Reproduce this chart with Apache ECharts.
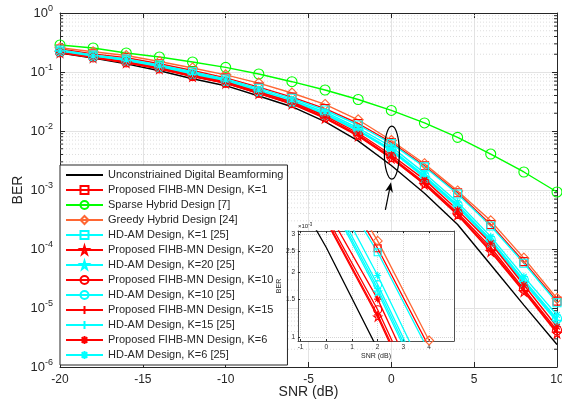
<!DOCTYPE html>
<html>
<head>
<meta charset="utf-8">
<script src="https://cdn.jsdelivr.net/npm/echarts@6/dist/echarts.min.js"></script>
<style>
  html, body { margin: 0; padding: 0; background: #fff; }
  #chart { width: 562px; height: 403px; }
</style>
</head>
<body>
<div id="chart"></div>
<script>
const chart = echarts.init(document.getElementById("chart"));

// SNR grid (dB) and BER values
const snr = [-20, -18, -16, -14, -12, -10, -8, -6, -4, -2, 0, 2, 4, 6, 8, 10];

const berUnconstrained = [0.210, 0.173, 0.137, 0.105, 0.0769, 0.0586, 0.0392, 0.0258, 0.0144, 0.0068, 0.0026, 8.8e-4, 2.6e-4, 5.4e-5, 1.12e-5, 2.4e-6];
const berFihbK1 = [0.245, 0.203, 0.174, 0.138, 0.106, 0.0795, 0.0555, 0.0375, 0.0240, 0.0134, 0.0064, 0.00258, 9.0e-4, 2.6e-4, 6.1e-5, 1.31e-5];
const berSparse = [0.287, 0.255, 0.210, 0.1795, 0.1477, 0.120, 0.0925, 0.0685, 0.0495, 0.0342, 0.0223, 0.0137, 0.0078, 0.00407, 0.00202, 0.000925];
const berGreedy = [0.258, 0.220, 0.190, 0.151, 0.117, 0.0895, 0.0648, 0.0440, 0.0282, 0.0155, 0.0069, 0.00279, 9.65e-4, 3.0e-4, 7.0e-5, 1.45e-5];
const berHdamK1 = [0.236, 0.194, 0.166, 0.1315, 0.101, 0.0761, 0.0529, 0.0358, 0.0227, 0.01264, 0.0061, 0.00247, 8.55e-4, 2.45e-4, 5.73e-5, 1.23e-5];
const berFihbK20 = [0.212, 0.175, 0.143, 0.113, 0.0838, 0.0642, 0.0431, 0.0287, 0.0164, 0.0082, 0.00344, 0.00124, 3.77e-4, 9.0e-5, 1.89e-5, 3.72e-6];
const berHdamK20 = [0.221, 0.181, 0.154, 0.120, 0.091, 0.0684, 0.0459, 0.0306, 0.0189, 0.0100, 0.0046, 0.00162, 5.15e-4, 1.32e-4, 2.7e-5, 5.86e-6];
const berFihbK10 = [0.215, 0.177, 0.145, 0.1145, 0.0852, 0.0655, 0.0442, 0.0296, 0.0171, 0.0087, 0.00362, 0.00134, 4.1e-4, 1.07e-4, 2.1e-5, 4.2e-6];
const berHdamK10 = [0.224, 0.184, 0.157, 0.123, 0.0935, 0.0705, 0.0475, 0.0318, 0.0198, 0.0105, 0.0049, 0.00175, 5.6e-4, 1.45e-4, 3.0e-5, 6.6e-6];
const berFihbK15 = [0.213, 0.176, 0.144, 0.1135, 0.0843, 0.0647, 0.0435, 0.0290, 0.0167, 0.0084, 0.0035, 0.00127, 3.9e-4, 9.7e-5, 1.97e-5, 3.9e-6];
const berHdamK15 = [0.222, 0.182, 0.155, 0.1215, 0.092, 0.0693, 0.0466, 0.0311, 0.0193, 0.0102, 0.00472, 0.00168, 5.35e-4, 1.38e-4, 2.85e-5, 6.2e-6];
const berFihbK6 = [0.218, 0.180, 0.148, 0.117, 0.0873, 0.0677, 0.0458, 0.0310, 0.0180, 0.00925, 0.00392, 0.00150, 4.58e-4, 1.25e-4, 2.45e-5, 4.82e-6];
const berHdamK6 = [0.227, 0.187, 0.160, 0.1264, 0.0962, 0.0731, 0.0495, 0.0335, 0.0210, 0.01124, 0.00542, 0.00193, 6.2e-4, 1.62e-4, 3.4e-5, 7.6e-6];

const insetXTicks = [-1, 0, 1, 2, 3, 4];
const insetYTicks = [0.001, 0.0015, 0.002, 0.0025, 0.003];

const RED = "#ff0000", CYAN = "#00ffff", GREEN = "#00ff00", ORANGE = "#ff6633";
const STAR = "path://M50,0 L61,35 L98,35 L68,57 L79,91 L50,70 L21,91 L32,57 L2,35 L39,35 Z";
const PLUS = "path://M5,0 L5,10 M0,5 L10,5";
const ASTER = "path://M5,0 L5,10 M0,5 L10,5 M1.5,1.5 L8.5,8.5 M1.5,8.5 L8.5,1.5";

const curves = [
  { name: "Unconstriained Digital Beamforming", data: berUnconstrained, color: "#000000", symbol: "none" },
  { name: "Proposed FIHB-MN Design, K=1", data: berFihbK1, color: RED, symbol: "rect" },
  { name: "Sparse Hybrid Design [7]", data: berSparse, color: GREEN, symbol: "circle", size: 10 },
  { name: "Greedy Hybrid Design [24]", data: berGreedy, color: ORANGE, symbol: "diamond", size: 10 },
  { name: "HD-AM Design, K=1 [25]", data: berHdamK1, color: CYAN, symbol: "rect" },
  { name: "Proposed FIHB-MN Design, K=20", data: berFihbK20, color: RED, symbol: STAR, size: 9 },
  { name: "HD-AM Design, K=20 [25]", data: berHdamK20, color: CYAN, symbol: STAR, size: 9 },
  { name: "Proposed FIHB-MN Design, K=10", data: berFihbK10, color: RED, symbol: "circle", size: 9 },
  { name: "HD-AM Design, K=10 [25]", data: berHdamK10, color: CYAN, symbol: "circle", size: 9 },
  { name: "Proposed FIHB-MN Design, K=15", data: berFihbK15, color: RED, symbol: PLUS },
  { name: "HD-AM Design, K=15 [25]", data: berHdamK15, color: CYAN, symbol: PLUS },
  { name: "Proposed FIHB-MN Design, K=6", data: berFihbK6, color: RED, symbol: ASTER },
  { name: "HD-AM Design, K=6 [25]", data: berHdamK6, color: CYAN, symbol: ASTER },
];

const FONT = "Liberation Sans, Arial, Helvetica, sans-serif";
const AX = "#262626";

// minor decade ticks 2..9 x 10^e for the log axis
const minorVals = [];
for (let e = -6; e <= -1; e++) for (let m = 2; m <= 9; m++) minorVals.push(m * Math.pow(10, e));

function lineSeries(c, xi, yi, z) {
  return {
    type: "line",
    name: c.name,
    xAxisIndex: xi,
    yAxisIndex: yi,
    z: z,
    data: snr.map((x, i) => [x, c.data[i]]),
    symbol: c.symbol,
    symbolSize: c.size || 8,
    showSymbol: c.symbol !== "none",
    clip: true,
    animation: false,
    lineStyle: { color: c.color, width: 1.4 },
    itemStyle: { color: "rgba(255,255,255,0)", borderColor: c.color, borderWidth: 1.1 },
    emphasis: { disabled: true },
  };
}

function minorTick(params, api) {
  const a = api.coord([-20, api.value(1)]);
  const b = api.coord([10, api.value(1)]);
  return {
    type: "group",
    children: [
      { type: "line", shape: { x1: a[0], y1: a[1], x2: b[0], y2: b[1] }, style: { stroke: "#dedede", lineWidth: 1, lineDash: [1, 2] } },
      { type: "line", shape: { x1: a[0], y1: a[1], x2: a[0] + 3, y2: a[1] }, style: { stroke: AX, lineWidth: 1 } },
      { type: "line", shape: { x1: b[0], y1: b[1], x2: b[0] - 3, y2: b[1] }, style: { stroke: AX, lineWidth: 1 } },
    ],
  };
}

const supRich = {
  b: { fontSize: 13, fontFamily: FONT, color: AX },
  e: { fontSize: 9, fontFamily: FONT, color: AX, padding: [0, 0, 9, 0] },
};

const mainX = {
  type: "value", gridIndex: 0, min: -20, max: 10, interval: 5,
  axisLine: { onZero: false, lineStyle: { color: AX } },
  axisTick: { inside: true, length: 5, lineStyle: { color: AX } },
  splitLine: { show: true, lineStyle: { color: "#e3e3e3" } },
};
const mainY = {
  type: "log", gridIndex: 0, min: 1e-6, max: 1, logBase: 10,
  axisLine: { show: true, onZero: false, lineStyle: { color: AX } },
  axisTick: { show: true, inside: true, length: 5, lineStyle: { color: AX } },
  splitLine: { show: true, lineStyle: { color: "#e3e3e3" } },
};
const insetAxisLine = { show: true, onZero: false, lineStyle: { color: AX, width: 0.8 } };

const option = {
  backgroundColor: "#ffffff",
  animation: false,
  textStyle: { fontFamily: FONT },
  grid: [
    { left: 60, top: 13, width: 497, height: 354, show: false, outerBoundsMode: "none", containLabel: false },
    { left: 298, top: 231, width: 156, height: 110, show: true, backgroundColor: "#ffffff", borderWidth: 0, z: 5, outerBoundsMode: "none", containLabel: false },
  ],
  legend: {
    data: curves.map(c => (c.symbol === "none" ? { name: c.name, itemStyle: { opacity: 0 } } : c.name)),
    orient: "vertical",
    left: 60,
    top: 165,
    padding: [4, 4, 4, 5],
    itemWidth: 37,
    itemHeight: 10,
    itemGap: 3,
    backgroundColor: "#ffffff",
    borderColor: AX,
    borderWidth: 1,
    borderRadius: 0,
    textStyle: { fontSize: 11, fontFamily: FONT, color: AX, lineHeight: 12 },
    selectedMode: false,
  },
  xAxis: [
    Object.assign({}, mainX, {
      position: "bottom",
      axisLabel: { fontSize: 12, color: AX, margin: 7, fontFamily: FONT },
      name: "SNR (dB)", nameLocation: "middle", nameGap: 18, nameMoveOverlap: false,
      nameTextStyle: { fontSize: 14, color: AX, fontFamily: FONT },
    }),
    Object.assign({}, mainX, { position: "top", axisLabel: { show: false }, splitLine: { show: false } }),
    {
      type: "value", gridIndex: 1, min: -1.1, max: 4.97, position: "bottom", z: 6,
      axisLine: insetAxisLine,
      axisTick: { inside: true, length: 2, customValues: insetXTicks, lineStyle: { color: AX } },
      axisLabel: { customValues: insetXTicks, fontSize: 6.5, color: AX, margin: 3, fontFamily: FONT },
      splitLine: { show: true, lineStyle: { color: "#d6d6d6", type: "dotted" } },
      name: "SNR (dB)", nameLocation: "middle", nameGap: 12,
      nameTextStyle: { fontSize: 7, color: AX, fontFamily: FONT },
    },
    {
      type: "value", gridIndex: 1, min: -1.1, max: 4.97, position: "top", z: 6,
      axisLine: insetAxisLine,
      axisTick: { inside: true, length: 2, customValues: insetXTicks, lineStyle: { color: AX } },
      axisLabel: { show: false }, splitLine: { show: false },
    },
  ],
  yAxis: [
    Object.assign({}, mainY, {
      position: "left",
      axisLabel: {
        margin: 7,
        formatter: v => "{b|10}{e|" + Math.round(Math.log10(v)) + "}",
        rich: supRich,
      },
      name: "BER", nameLocation: "middle", nameGap: 35, nameMoveOverlap: false,
      nameTextStyle: { fontSize: 14, color: AX, fontFamily: FONT },
    }),
    Object.assign({}, mainY, { position: "right", axisLabel: { show: false }, splitLine: { show: false } }),
    {
      type: "log", gridIndex: 1, min: 0.00096, max: 0.0031, position: "left", z: 6,
      axisLine: insetAxisLine,
      axisTick: { show: true, inside: true, length: 2, customValues: insetYTicks, lineStyle: { color: AX } },
      axisLabel: {
        customValues: insetYTicks, fontSize: 6.5, color: AX, margin: 3, fontFamily: FONT,
        formatter: v => String(Math.round(v * 1e4) / 10),
      },
      splitLine: { show: true, lineStyle: { color: "#d6d6d6", type: "dotted" } },
      name: "BER", nameLocation: "middle", nameGap: 12,
      nameTextStyle: { fontSize: 7, color: AX, fontFamily: FONT },
    },
    {
      type: "log", gridIndex: 1, min: 0.00096, max: 0.0031, position: "right", z: 6,
      axisLine: insetAxisLine,
      axisTick: { show: false }, axisLabel: { show: false }, splitLine: { show: false },
    },
  ],
  series: [
    {
      type: "custom", name: "minor", xAxisIndex: 0, yAxisIndex: 0, z: 1, silent: true,
      data: minorVals.map(v => [-20, v]),
      renderItem: minorTick,
    },
  ]
    .concat(curves.map(c => lineSeries(c, 0, 0, 2)))
    .concat(curves.map(c => Object.assign(lineSeries(c, 2, 2, 7), { name: c.name + " (inset)", symbolSize: (c.size || 8) - 1, lineStyle: { color: c.color, width: 1.3 } }))),
};

chart.setOption(option);

// annotation: ellipse around the SNR=0 bundle with an arrow pointing to it
const ctr = chart.convertToPixel({ xAxisIndex: 0, yAxisIndex: 0 }, [0.03, 4.3e-3]);
const tip = chart.convertToPixel({ xAxisIndex: 0, yAxisIndex: 0 }, [-0.02, 1.35e-3]);
const tail = chart.convertToPixel({ xAxisIndex: 0, yAxisIndex: 0 }, [-0.36, 4.6e-4]);
const ang = Math.atan2(tip[1] - tail[1], tip[0] - tail[0]);
const hl = 10, hw = 4;
const back = [tip[0] - hl * Math.cos(ang), tip[1] - hl * Math.sin(ang)];
const notch = [tip[0] - 0.7 * hl * Math.cos(ang), tip[1] - 0.7 * hl * Math.sin(ang)];
const nx = -Math.sin(ang), ny = Math.cos(ang);
const corner = chart.convertToPixel({ xAxisIndex: 2, yAxisIndex: 2 }, [-1.1, 0.0031]);

chart.setOption({
  graphic: [
    { type: "ellipse", z: 10, shape: { cx: ctr[0], cy: ctr[1], rx: 7.5, ry: 26.5 }, style: { fill: "none", stroke: "#000", lineWidth: 1.2 } },
    { type: "line", z: 10, shape: { x1: tail[0], y1: tail[1], x2: notch[0], y2: notch[1] }, style: { stroke: "#000", lineWidth: 1.2 } },
    {
      type: "polygon", z: 10,
      shape: { points: [tip, [back[0] + nx * hw, back[1] + ny * hw], notch, [back[0] - nx * hw, back[1] - ny * hw]] },
      style: { fill: "#000" },
    },
    {
      type: "text", z: 10, left: corner[0], top: corner[1] - 9,
      style: {
        text: "{a|×10}{e|-3}",
        rich: { a: { fontSize: 6, fill: AX, fontFamily: FONT }, e: { fontSize: 4.5, fill: AX, fontFamily: FONT, padding: [0, 0, 4, 0] } },
      },
    },
  ],
});
</script>
</body>
</html>
